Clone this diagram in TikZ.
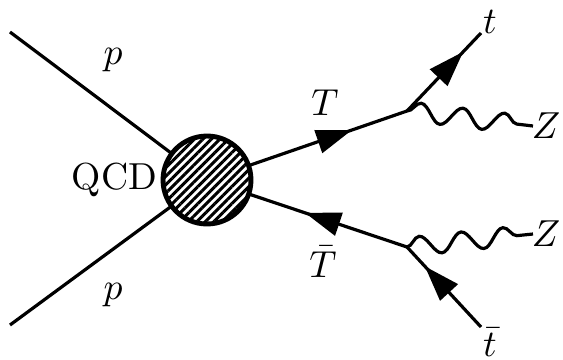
\documentclass[tikz,border=0pt]{standalone}
\usepackage{amsmath}
\usepackage{amssymb}
\usetikzlibrary{arrows.meta,decorations.markings,decorations.pathmorphing,patterns.meta}

\tikzset{
fermion/.style={line width=0.85pt, postaction={decorate},
  decoration={markings, mark=at position #1 with {\arrow{Triangle[length=9.5pt,width=6.3pt]}}}},
fermion/.default=0.65,
boson/.style={line width=0.85pt, decorate,
  decoration={snake, segment length=11.2pt, amplitude=2.5pt}},
blob/.style={circle, draw, line width=1.3pt, minimum size=23.4pt, inner sep=0pt,
  preaction={fill=white}, pattern={Lines[angle=45,distance=1.6pt,line width=0.8pt]}},
}

\begin{document}
\begin{tikzpicture}[x=0.266pt,y=-0.266pt]
\useasboundingbox (0,0) rectangle (563,359);
%\def\r{44}
\path
(10,32) coordinate (pa)
(10,325) coordinate (pb)
(207,180) coordinate (c)
(407,111) coordinate (va)
(407,247) coordinate (vb)
(481,33) coordinate (ta)
(481,327) coordinate (tb)
(533,126) coordinate (za)
(533,234) coordinate (zb);
\draw[line width=0.85pt] (pa) -- (c);
\draw[line width=0.85pt] (pb) -- (c);
\node[blob] (qcd) at (c) {};
\draw[fermion] (qcd) -- (va);
\draw[fermion] (vb) -- (qcd);
\draw[fermion=0.76] (va) -- (ta);
\draw[fermion=0.76] (tb) -- (vb);
\draw[boson] (va) -- (za);
\draw[boson] (vb) -- (zb);
% labels
\path
(113,60) node (lpa) {$p$}
(113,295) node (lpb) {$p$}
(qcd.west) node[left, inner sep=1pt] (lqcd) {QCD}
(325,103) node (lT) {$T$}
(323,262) node[inner sep=1pt] (lTb) {$\bar{T}$}
(490,22) node (lt) {$t$}
(490,342) node[inner sep=1pt] (ltb) {$\bar{t}$}
(546,126) node (lza) {$Z$}
(546,234) node (lzb) {$Z$};
%\draw[->] (va)--(za) node[right]{$Z$};
\end{tikzpicture}
\end{document}
